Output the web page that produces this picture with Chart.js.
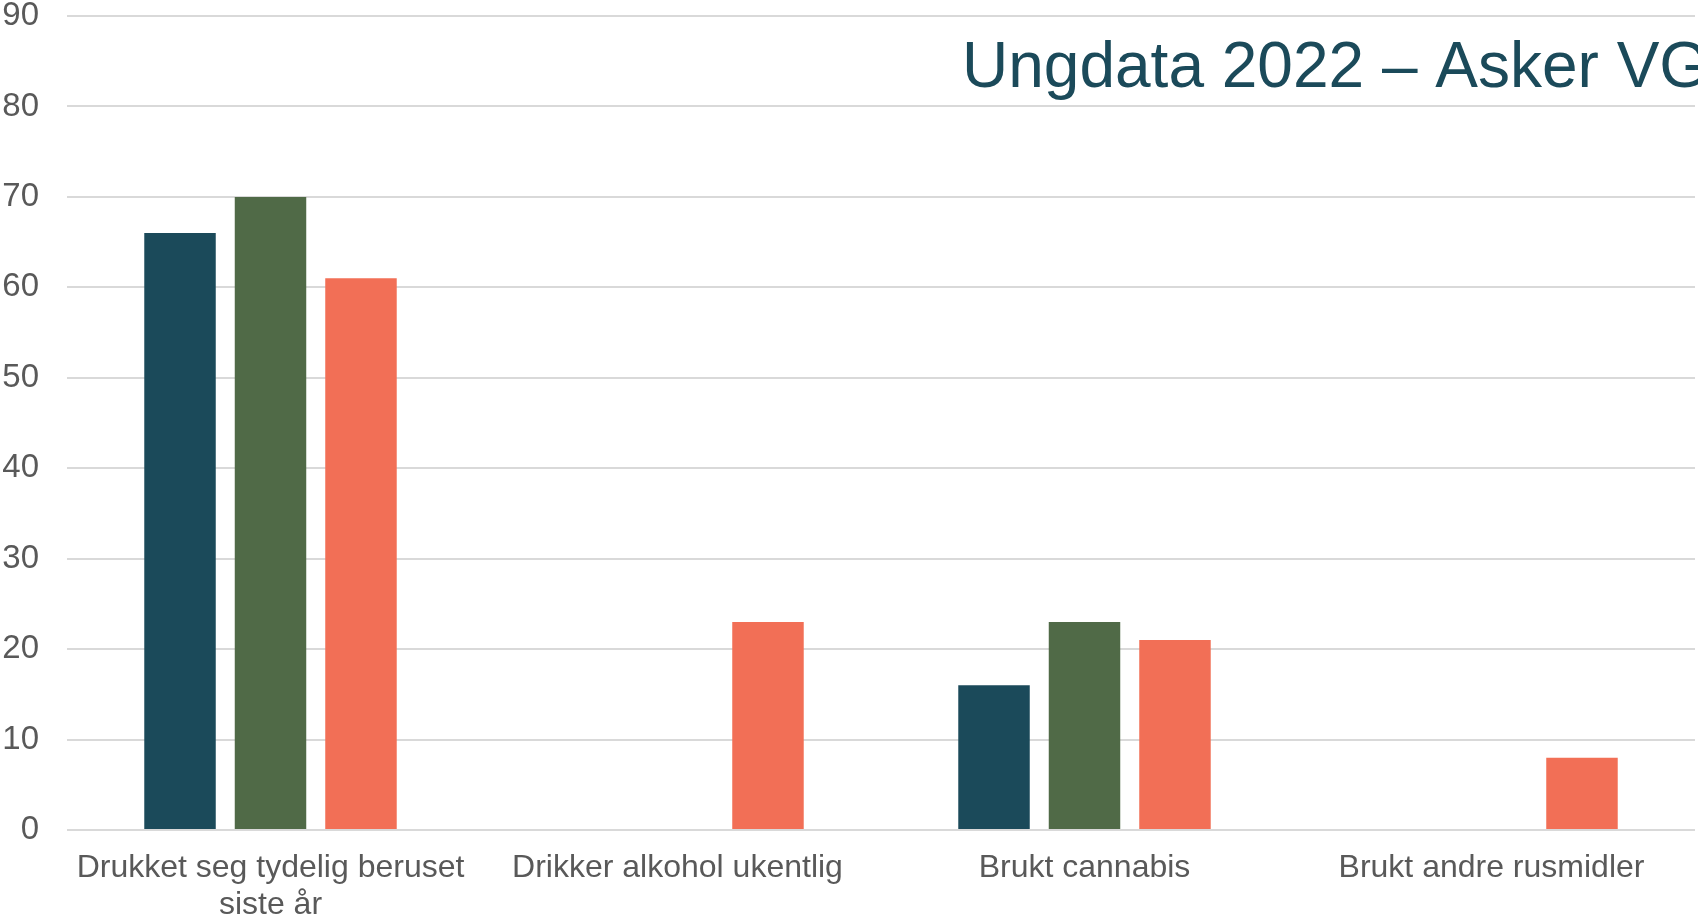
<!DOCTYPE html>
<html>
<head>
<meta charset="utf-8">
<script src="https://cdn.jsdelivr.net/npm/chart.js@4"></script>
<style>
  html, body { margin: 0; padding: 0; background: #fff; }
  #wrap { width: 1698px; height: 924px; }
</style>
</head>
<body>
<div id="wrap"><canvas id="rus"></canvas></div>
<script>
const kategorier = [
  ['Drukket seg tydelig beruset', 'siste år'],
  'Drikker alkohol ukentlig',
  'Brukt cannabis',
  'Brukt andre rusmidler'
];
const serie1 = [66, 0, 16, 0];
const serie2 = [70, 0, 23, 0];
const serie3 = [61, 23, 21, 8];
const yTicks = [0, 10, 20, 30, 40, 50, 60, 70, 80, 90];
const tittel = 'Ungdata 2022 – Asker VGS';

const fontFamily = "'Liberation Sans', Arial, sans-serif";

const tittelPlugin = {
  id: 'tittel',
  afterDraw(chart) {
    const ctx = chart.ctx;
    ctx.save();
    ctx.font = '64px ' + fontFamily;
    ctx.fillStyle = '#1B4A5A';
    ctx.textBaseline = 'alphabetic';
    ctx.fillText(tittel, 962, 87);
    ctx.restore();
  }
};

const ctx = document.getElementById('rus');
new Chart(ctx, {
  type: 'bar',
  data: {
    labels: kategorier,
    datasets: [
      { label: 'Serie 1', data: serie1, backgroundColor: '#1B4A5A' },
      { label: 'Serie 2', data: serie2, backgroundColor: '#506A47' },
      { label: 'Serie 3', data: serie3, backgroundColor: '#F26F56' }
    ]
  },
  options: {
    responsive: true,
    maintainAspectRatio: false,
    animation: false,
    devicePixelRatio: 1,
    datasets: {
      bar: { categoryPercentage: 0.667, barPercentage: 0.79 }
    },
    layout: { padding: { top: 16, right: 3, left: 0, bottom: 0 } },
    plugins: {
      legend: { display: false },
      title: { display: false },
      tooltip: { enabled: false }
    },
    scales: {
      x: {
        grid: { display: false, drawTicks: false },
        border: { display: false },
        ticks: {
          color: '#595959',
          padding: 20,
          maxRotation: 0,
          autoSkip: false,
          font: { size: 32, family: fontFamily, lineHeight: 1.15 }
        },
        afterFit: (s) => { s.height = 94; }
      },
      y: {
        min: 0,
        max: 90,
        afterBuildTicks: (s) => { s.ticks = yTicks.map((v) => ({ value: v })); },
        grid: { color: '#D9D9D9', lineWidth: 2, drawTicks: false },
        border: { display: false },
        ticks: {
          color: '#595959',
          padding: 28,
          font: { size: 33, family: fontFamily }
        },
        afterFit: (s) => {
          s.width = 67;
          s.paddingTop = 0;
          s.paddingBottom = 0;
        }
      }
    }
  },
  plugins: [tittelPlugin]
});
</script>
</body>
</html>
